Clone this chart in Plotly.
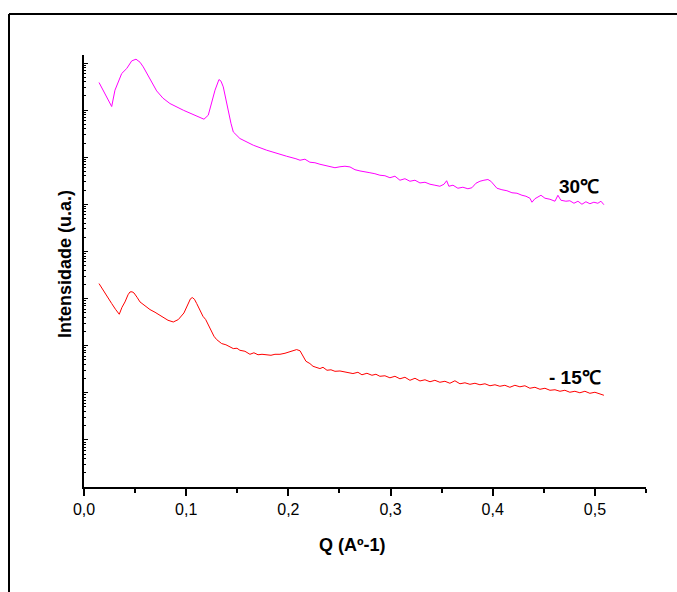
import plotly.graph_objects as go

# ---------------- data ----------------
q_30 = [0.0147, 0.0189, 0.0271, 0.0303, 0.0369, 0.0418, 0.0467, 0.0509, 0.0548, 0.0580,
        0.0646, 0.0711, 0.0773, 0.0841, 0.0972, 0.1135, 0.1174, 0.1216, 0.1252, 0.1282,
        0.1321, 0.1341, 0.1363, 0.1389, 0.1412, 0.1438, 0.1461, 0.1526, 0.1657, 0.1788,
        0.1983, 0.2025, 0.2074, 0.2114, 0.2162, 0.2211, 0.2260, 0.2309, 0.2358, 0.2407,
        0.2456, 0.2505, 0.2554, 0.2603, 0.2652, 0.2701, 0.2750, 0.2798, 0.2847, 0.2896,
        0.2945, 0.2994, 0.3043, 0.3092, 0.3141, 0.3190, 0.3239, 0.3288, 0.3337, 0.3386,
        0.3434, 0.3483, 0.3523, 0.3549, 0.3571, 0.3611, 0.3659, 0.3708, 0.3757, 0.3796,
        0.3836, 0.3875, 0.3914, 0.3953, 0.3982, 0.4012, 0.4041, 0.4090, 0.4139, 0.4188,
        0.4237, 0.4286, 0.4325, 0.4364, 0.4384, 0.4413, 0.4442, 0.4472, 0.4511, 0.4560,
        0.4609, 0.4638, 0.4667, 0.4716, 0.4755, 0.4795, 0.4834, 0.4873, 0.4912, 0.4951,
        0.4990, 0.5029, 0.5059, 0.5088]
log_i_30 = [8.586, 8.408, 8.076, 8.423, 8.777, 8.883, 9.045, 9.081, 9.017, 8.917,
            8.671, 8.408, 8.253, 8.140, 7.998, 7.856, 7.807, 7.892, 8.210, 8.423,
            8.650, 8.614, 8.493, 8.210, 7.998, 7.722, 7.537, 7.397, 7.255, 7.149,
            7.021, 7.000, 6.968, 6.936, 6.958, 6.894, 6.883, 6.851, 6.830, 6.809,
            6.777, 6.798, 6.809, 6.794, 6.735, 6.709, 6.682, 6.671, 6.650, 6.618,
            6.607, 6.565, 6.597, 6.512, 6.544, 6.490, 6.512, 6.454, 6.469, 6.427,
            6.406, 6.384, 6.427, 6.501, 6.384, 6.406, 6.342, 6.363, 6.331, 6.352,
            6.448, 6.490, 6.512, 6.527, 6.490, 6.416, 6.342, 6.310, 6.289, 6.246,
            6.236, 6.193, 6.172, 6.130, 6.045, 6.119, 6.151, 6.193, 6.130, 6.108,
            6.066, 6.193, 6.087, 6.066, 6.076, 6.023, 6.066, 6.002, 6.055, 6.013,
            6.045, 6.023, 6.066, 5.992]

q_m15 = [0.0147, 0.0196, 0.0235, 0.0271, 0.0308, 0.0345, 0.0372, 0.0401, 0.0431, 0.0450,
         0.0470, 0.0489, 0.0519, 0.0548, 0.0597, 0.0646, 0.0695, 0.0744, 0.0783, 0.0822,
         0.0874, 0.0923, 0.0978, 0.1021, 0.1042, 0.1060, 0.1081, 0.1103, 0.1135, 0.1164,
         0.1191, 0.1218, 0.1250, 0.1272, 0.1298, 0.1347, 0.1389, 0.1429, 0.1461, 0.1497,
         0.1526, 0.1575, 0.1624, 0.1663, 0.1703, 0.1742, 0.1788, 0.1830, 0.1869, 0.1918,
         0.1967, 0.2016, 0.2055, 0.2081, 0.2114, 0.2146, 0.2172, 0.2211, 0.2241, 0.2270,
         0.2309, 0.2339, 0.2378, 0.2417, 0.2456, 0.2505, 0.2544, 0.2583, 0.2632, 0.2681,
         0.2720, 0.2769, 0.2818, 0.2857, 0.2896, 0.2945, 0.2994, 0.3043, 0.3092, 0.3141,
         0.3190, 0.3239, 0.3288, 0.3337, 0.3386, 0.3434, 0.3483, 0.3532, 0.3581, 0.3630,
         0.3679, 0.3728, 0.3777, 0.3826, 0.3875, 0.3924, 0.3973, 0.4022, 0.4070, 0.4119,
         0.4168, 0.4217, 0.4266, 0.4315, 0.4364, 0.4413, 0.4462, 0.4511, 0.4560, 0.4609,
         0.4658, 0.4706, 0.4755, 0.4804, 0.4853, 0.4902, 0.4951, 0.5000, 0.5049, 0.5088]
log_i_m15 = [4.318, 4.140, 4.028, 3.894, 3.773, 3.667, 3.815, 3.928, 4.081, 4.140,
             4.144, 4.119, 4.028, 3.928, 3.847, 3.766, 3.709, 3.645, 3.603, 3.539,
             3.503, 3.554, 3.694, 3.907, 3.996, 4.021, 3.985, 3.894, 3.752, 3.624,
             3.554, 3.433, 3.291, 3.200, 3.130, 3.045, 3.019, 2.966, 2.938, 2.945,
             2.902, 2.881, 2.817, 2.849, 2.807, 2.817, 2.811, 2.796, 2.817, 2.817,
             2.839, 2.866, 2.902, 2.917, 2.892, 2.760, 2.669, 2.620, 2.563, 2.541,
             2.514, 2.541, 2.478, 2.488, 2.456, 2.463, 2.446, 2.414, 2.408, 2.435,
             2.382, 2.414, 2.372, 2.393, 2.350, 2.361, 2.318, 2.350, 2.297, 2.329,
             2.265, 2.308, 2.251, 2.276, 2.234, 2.265, 2.223, 2.244, 2.202, 2.255,
             2.191, 2.212, 2.180, 2.202, 2.170, 2.191, 2.149, 2.170, 2.138, 2.159,
             2.117, 2.159, 2.127, 2.149, 2.096, 2.117, 2.074, 2.096, 2.053, 2.064,
             2.032, 2.053, 2.011, 2.032, 2.000, 2.032, 1.989, 2.011, 1.979, 1.947]

x_tick_vals = [0.0, 0.1, 0.2, 0.3, 0.4, 0.5]
x_tick_text = ["0,0", "0,1", "0,2", "0,3", "0,4", "0,5"]
label_30 = "30℃"
label_m15 = "- 15℃"
x_title = "Q (Aº-1)"
y_title = "Intensidade (u.a.)"

# ---------------- figure ----------------
FONT = "Arial, Liberation Sans, sans-serif"
W, H = 677, 592
L, R, T, B = 84, 646, 55, 487


def px(x):
    return (x - L) / (R - L)


def py(y):
    return (B - y) / (B - T)


fig = go.Figure()
fig.add_trace(go.Scatter(x=q_30, y=[10 ** v for v in log_i_30], mode="lines",
                         line=dict(color="#FF00FF", width=1), showlegend=False))
fig.add_trace(go.Scatter(x=q_m15, y=[10 ** v for v in log_i_m15], mode="lines",
                         line=dict(color="#FF0000", width=1), showlegend=False))

major_y = [10 ** n for n in range(10)]
minor_y = [k * 10 ** n for n in range(10) for k in range(2, 10)]

fig.update_layout(
    width=W, height=H,
    margin=dict(l=L, r=W - R, t=T, b=H - B, pad=0),
    paper_bgcolor="white", plot_bgcolor="white",
    font=dict(family=FONT, color="black"),
    showlegend=False,
    xaxis=dict(
        range=[0, 0.55], showgrid=False, zeroline=False,
        showline=True, linecolor="black", linewidth=1.8,
        ticks="outside", ticklen=7, tickwidth=1.5, tickcolor="black",
        tickvals=x_tick_vals, ticktext=x_tick_text,
        tickfont=dict(size=16, family=FONT),
        minor=dict(ticks="outside", ticklen=4, tickwidth=1.5, tickcolor="black", dtick=0.05),
    ),
    yaxis=dict(
        type="log", range=[0, 9.17], showgrid=False, zeroline=False,
        showline=True, linecolor="black", linewidth=1.8,
        ticks="inside", ticklen=4, tickwidth=1, tickcolor="black",
        tickvals=major_y, showticklabels=False,
        minor=dict(ticks="inside", ticklen=2.5, tickwidth=1, tickcolor="black", tickvals=minor_y),
    ),
    shapes=[
        dict(type="line", xref="paper", yref="paper", x0=px(9), x1=px(700), y0=py(14), y1=py(14),
             line=dict(color="black", width=2)),
        dict(type="line", xref="paper", yref="paper", x0=px(9), x1=px(9), y0=py(14), y1=py(620),
             line=dict(color="black", width=2)),
    ],
    annotations=[
        dict(text=label_30, xref="paper", yref="paper", x=px(579), y=py(186.5),
             showarrow=False, xanchor="center", yanchor="middle",
             font=dict(size=19, family=FONT, color="black", weight="bold")),
        dict(text=label_m15, xref="paper", yref="paper", x=px(575), y=py(377),
             showarrow=False, xanchor="center", yanchor="middle",
             font=dict(size=19, family=FONT, color="black", weight="bold")),
        dict(text=x_title, xref="paper", yref="paper", x=px(352), y=py(545),
             showarrow=False, xanchor="center", yanchor="middle",
             font=dict(size=18, family=FONT, color="black", weight="bold")),
        dict(text=y_title, xref="paper", yref="paper", x=px(65), y=py(264),
             showarrow=False, xanchor="center", yanchor="middle", textangle=-90,
             font=dict(size=18, family=FONT, color="black", weight="bold")),
    ],
)

fig.write_html("out.html")
